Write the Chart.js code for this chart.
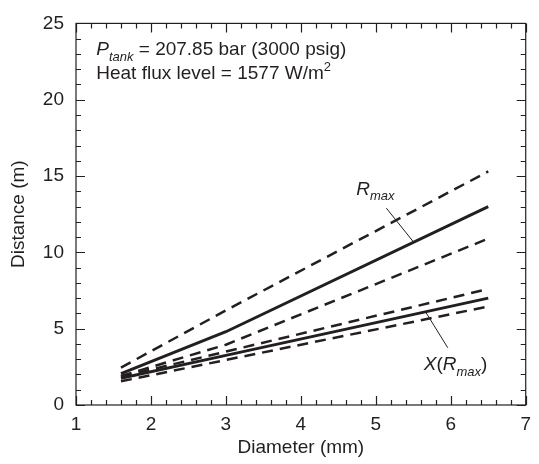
<!DOCTYPE html>
<html>
<head>
<meta charset="utf-8">
<script src="https://cdn.jsdelivr.net/npm/chart.js@4.4.1/dist/chart.umd.min.js"></script>
<style>
    html, body { margin: 0; padding: 0; background: #fff; }
</style>
</head>
<body>
<canvas id="chart" width="539" height="464"></canvas>
<script>
// Data
const diameters = [1.6, 3.0, 6.5];          // mm
const rMax = [2.05, 4.8, 13.0];
const rMaxUpper = [2.45, 6.2, 15.3];
const rMaxLower = [1.9, 3.95, 10.9];
const xRmax = [1.75, 3.25, 7.0];
const xRmaxUpper = [1.85, 3.5, 7.6];
const xRmaxLower = [1.55, 2.95, 6.45];

const xTicks = [1, 2, 3, 4, 5, 6, 7];
const yTicks = [0, 5, 10, 15, 20, 25];
const xMinorStep = 0.2;
const yMinorStep = 1;

const FONT = '"Liberation Sans", Arial, Helvetica, sans-serif';
const INK = '#231f20';

// Annotations, in data units
const notes = {
    header: { x: 1.27, y1: 22.93, y2: 21.38 },
    rLabel: { x: 4.74, y: 13.78 },
    rLeader: [[5.14, 12.9], [5.5, 10.7]],
    xLabel: { x: 5.64, y: 2.3 },
    xLeader: [[5.67, 6.05], [5.96, 3.75]]
};

const toPoints = (vals) => vals.map((v, i) => ({ x: diameters[i], y: v }));

const solid = (vals) => ({
    data: toPoints(vals),
    borderColor: INK,
    borderWidth: 3,
    pointRadius: 0,
    tension: 0
});

const dashed = (vals) => ({
    data: toPoints(vals),
    borderColor: INK,
    borderWidth: 2.5,
    borderDash: [11, 7],
    pointRadius: 0,
    tension: 0
});

// draws runs of text, some italic / subscript / superscript
const drawRich = (ctx, x, y, parts, size) => {
    let cx = x;
    parts.forEach(p => {
        const s = (p.sub || p.sup) ? Math.round(size * 0.7) : size;
        ctx.font = `${p.italic ? 'italic ' : ''}${s}px ${FONT}`;
        let dy = 0;
        if (p.sub) dy = size * 0.3;
        if (p.sup) dy = -size * 0.4;
        ctx.fillText(p.t, cx, y + dy);
        cx += ctx.measureText(p.t).width;
    });
};

const frameAndTicks = {
    id: 'frameAndTicks',
    afterDatasetsDraw(chart) {
        const { ctx, chartArea: a, scales: { x, y } } = chart;
        ctx.save();
        ctx.strokeStyle = INK;
        ctx.lineWidth = 1.2;
        ctx.strokeRect(a.left, a.top, a.right - a.left, a.bottom - a.top);

        const major = 9, minor = 5;
        ctx.beginPath();
        for (let v = x.min; v <= x.max + 1e-6; v += xMinorStep) {
            const px = Math.round(x.getPixelForValue(v)) + 0.5;
            const isMajor = Math.abs(v - Math.round(v)) < 1e-6;
            const len = isMajor ? major : minor;
            ctx.moveTo(px, a.bottom); ctx.lineTo(px, a.bottom - len);
            ctx.moveTo(px, a.top); ctx.lineTo(px, a.top + len);
        }
        for (let v = y.min; v <= y.max + 1e-6; v += yMinorStep) {
            const py = Math.round(y.getPixelForValue(v)) + 0.5;
            const isMajor = v % 5 === 0;
            const len = isMajor ? major : minor;
            ctx.moveTo(a.left, py); ctx.lineTo(a.left + len, py);
            ctx.moveTo(a.right, py); ctx.lineTo(a.right - len, py);
        }
        ctx.stroke();

        // leader lines
        ctx.lineWidth = 1;
        ctx.beginPath();
        [notes.rLeader, notes.xLeader].forEach(seg => {
            ctx.moveTo(x.getPixelForValue(seg[0][0]), y.getPixelForValue(seg[0][1]));
            ctx.lineTo(x.getPixelForValue(seg[1][0]), y.getPixelForValue(seg[1][1]));
        });
        ctx.stroke();

        // texts
        ctx.fillStyle = INK;
        ctx.textBaseline = 'alphabetic';
        ctx.textAlign = 'left';
        const hx = x.getPixelForValue(notes.header.x);
        drawRich(ctx, hx, y.getPixelForValue(notes.header.y1), [
            { t: 'P', italic: true },
            { t: 'tank', italic: true, sub: true },
            { t: ' = 207.85 bar (3000 psig)' }
        ], 19);
        drawRich(ctx, hx, y.getPixelForValue(notes.header.y2), [
            { t: 'Heat flux level = 1577 W/m' },
            { t: '2', sup: true }
        ], 19);
        drawRich(ctx, x.getPixelForValue(notes.rLabel.x), y.getPixelForValue(notes.rLabel.y), [
            { t: 'R', italic: true },
            { t: 'max', italic: true, sub: true }
        ], 19);
        drawRich(ctx, x.getPixelForValue(notes.xLabel.x), y.getPixelForValue(notes.xLabel.y), [
            { t: 'X', italic: true },
            { t: '(' },
            { t: 'R', italic: true },
            { t: 'max', italic: true, sub: true },
            { t: ')' }
        ], 19);
        ctx.restore();
    }
};

new Chart(document.getElementById('chart').getContext('2d'), {
    type: 'line',
    data: {
        datasets: [
            solid(rMax),
            dashed(rMaxUpper),
            dashed(rMaxLower),
            solid(xRmax),
            dashed(xRmaxUpper),
            dashed(xRmaxLower)
        ]
    },
    options: {
        responsive: false,
        animation: false,
        layout: { padding: { left: 0, right: 6, top: 18, bottom: 0 } },
        plugins: {
            legend: { display: false },
            tooltip: { enabled: false }
        },
        scales: {
            x: {
                type: 'linear',
                min: 1,
                max: 7,
                afterBuildTicks: (s) => { s.ticks = xTicks.map(v => ({ value: v })); },
                afterFit: (s) => { s.height = 59; },
                grid: { display: false, drawTicks: false },
                border: { display: false },
                ticks: {
                    color: INK,
                    padding: 8,
                    font: { family: FONT, size: 19 }
                },
                title: {
                    display: true,
                    text: 'Diameter (mm)',
                    color: INK,
                    font: { family: FONT, size: 19 },
                    padding: { top: 0, bottom: 5 }
                }
            },
            y: {
                min: 0,
                max: 25,
                afterBuildTicks: (s) => { s.ticks = yTicks.map(v => ({ value: v })); },
                afterFit: (s) => { s.width = 76; },
                grid: { display: false, drawTicks: false },
                border: { display: false },
                ticks: {
                    color: INK,
                    padding: 12,
                    font: { family: FONT, size: 19 }
                },
                title: {
                    display: true,
                    text: 'Distance (m)',
                    color: INK,
                    font: { family: FONT, size: 19 },
                    padding: { top: 7, bottom: 0 }
                }
            }
        }
    },
    plugins: [frameAndTicks]
});
</script>
</body>
</html>
